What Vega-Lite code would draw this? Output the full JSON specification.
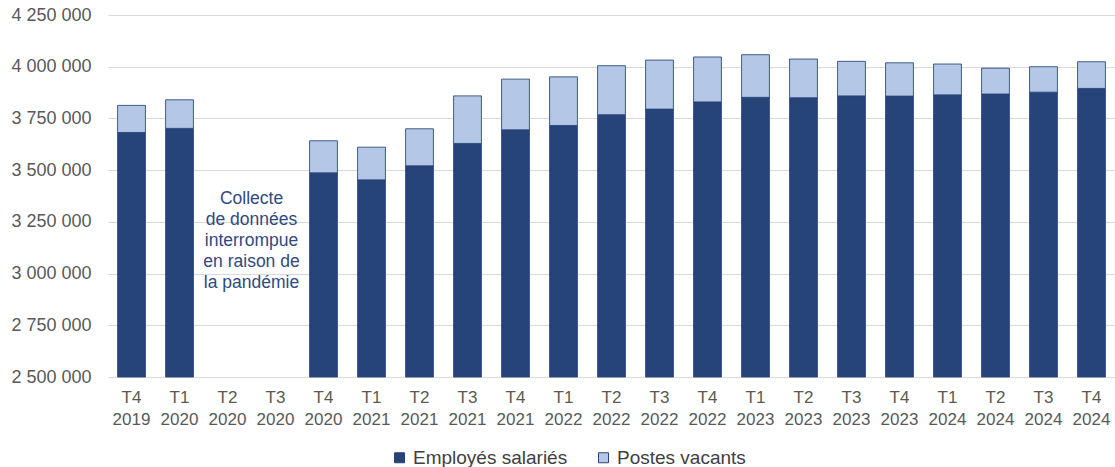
{
  "$schema": "https://vega.github.io/schema/vega-lite/v6.json",
  "autosize": "none",
  "width": 1007,
  "height": 362,
  "padding": {"left": 108, "top": 15, "right": 0, "bottom": 90},
  "background": "white",
  "config": {
    "view": {"stroke": null},
    "font": "Liberation Sans",
    "axis": {"labelFont": "Liberation Sans", "labelColor": "#595959", "domain": false, "ticks": false, "title": null, "gridColor": "#D9D9D9", "gridWidth": 1}
  },
  "data": {
    "values": [
      {"trimestre": "T4 2019", "employes": 3682000, "total": 3813000},
      {"trimestre": "T1 2020", "employes": 3702000, "total": 3840000},
      {"trimestre": "T4 2020", "employes": 3487000, "total": 3642000},
      {"trimestre": "T1 2021", "employes": 3453000, "total": 3611000},
      {"trimestre": "T2 2021", "employes": 3521000, "total": 3700000},
      {"trimestre": "T3 2021", "employes": 3629000, "total": 3859000},
      {"trimestre": "T4 2021", "employes": 3695000, "total": 3940000},
      {"trimestre": "T1 2022", "employes": 3716000, "total": 3951000},
      {"trimestre": "T2 2022", "employes": 3768000, "total": 4005000},
      {"trimestre": "T3 2022", "employes": 3795000, "total": 4032000},
      {"trimestre": "T4 2022", "employes": 3830000, "total": 4047000},
      {"trimestre": "T1 2023", "employes": 3852000, "total": 4058000},
      {"trimestre": "T2 2023", "employes": 3850000, "total": 4037000},
      {"trimestre": "T3 2023", "employes": 3859000, "total": 4026000},
      {"trimestre": "T4 2023", "employes": 3858000, "total": 4019000},
      {"trimestre": "T1 2024", "employes": 3864000, "total": 4013000},
      {"trimestre": "T2 2024", "employes": 3868000, "total": 3993000},
      {"trimestre": "T3 2024", "employes": 3877000, "total": 4000000},
      {"trimestre": "T4 2024", "employes": 3895000, "total": 4024000}
    ]
  },
  "encoding": {
    "x": {
      "field": "trimestre",
      "type": "nominal",
      "sort": null,
      "scale": {
        "domain": ["T4 2019", "T1 2020", "T2 2020", "T3 2020", "T4 2020", "T1 2021", "T2 2021", "T3 2021", "T4 2021", "T1 2022", "T2 2022", "T3 2022", "T4 2022", "T1 2023", "T2 2023", "T3 2023", "T4 2023", "T1 2024", "T2 2024", "T3 2024", "T4 2024"],
        "paddingInner": 0.42,
        "paddingOuter": 0.2
      },
      "axis": {
        "labelAngle": 0,
        "labelFontSize": 17,
        "labelLineHeight": 22,
        "labelBaseline": "top",
        "labelPadding": 12,
        "labelExpr": "split(datum.label, ' ')",
        "grid": false
      }
    }
  },
  "layer": [
    {
      "mark": {"type": "bar", "stroke": "#264478", "strokeWidth": 1, "strokeOpacity": 0.85},
      "encoding": {
        "y": {
          "field": "employes",
          "type": "quantitative",
          "scale": {"domain": [2500000, 4250000], "zero": false, "nice": false},
          "axis": {
            "values": [2500000, 2750000, 3000000, 3250000, 3500000, 3750000, 4000000, 4250000],
            "labelFontSize": 18,
            "labelPadding": 17,
            "labelExpr": "replace(format(datum.value, ','), regexp(',', 'g'), ' ')",
            "grid": true
          }
        },
        "y2": {"datum": 2500000},
        "color": {
          "datum": "Employés salariés",
          "scale": {"domain": ["Employés salariés", "Postes vacants"], "range": ["#264478", "#B4C7E7"]},
          "legend": {
            "title": null,
            "orient": "none",
            "direction": "horizontal",
            "legendX": 282,
            "legendY": 433,
            "symbolType": "square",
            "symbolSize": 100,
            "symbolStrokeColor": "#264478",
            "symbolStrokeWidth": 1,
            "symbolOpacity": 1,
            "labelFontSize": 19,
            "labelColor": "#404040",
            "labelFont": "Liberation Sans",
            "labelOffset": 4,
            "columnPadding": 26
          }
        }
      }
    },
    {
      "mark": {"type": "bar", "stroke": "#264478", "strokeWidth": 1, "strokeOpacity": 0.85},
      "encoding": {
        "y": {"field": "total", "type": "quantitative"},
        "y2": {"field": "employes"},
        "color": {"datum": "Postes vacants"}
      }
    },
    {
      "data": {"values": [{}]},
      "mark": {
        "type": "text",
        "text": ["Collecte", "de données", "interrompue", "en raison de", "la pandémie"],
        "font": "Liberation Sans",
        "fontSize": 17.5,
        "lineHeight": 21,
        "fill": "#2F4A80",
        "align": "center",
        "baseline": "middle",
        "dx": 24
      },
      "encoding": {
        "x": {"datum": "T2 2020"},
        "y": {"datum": 3360000}
      }
    }
  ]
}
